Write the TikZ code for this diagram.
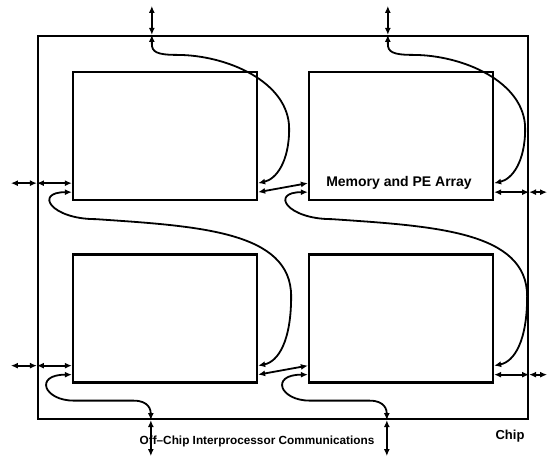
\documentclass[tikz,border=0pt]{standalone}
\usepackage{fontspec}
\setsansfont{Liberation Sans}
\usetikzlibrary{calc,arrows.meta}

\begin{document}
\begin{tikzpicture}[x=1pt,y=1pt,
  pe/.style={draw,line width=2.3pt,inner sep=0pt,minimum width=184pt,minimum height=128pt},
  link/.style={line width=1.8pt,{Latex[length=7pt,width=6pt]}-{Latex[length=7pt,width=6pt]}},
  lbl/.style={font=\sffamily\bfseries\fontsize{11.8}{14}\selectfont,inner sep=0pt}]
  \useasboundingbox (0,0) rectangle (547,463);
  \node[draw,line width=2.2pt,inner sep=0pt,minimum width=490pt,minimum height=383pt] (chip) at (283,235.5) {};
  \path (165,327) node[pe] (tl) {} (401,327) node[pe] (tr) {}
  (165,144.5) node[pe] (bl) {} (401,144.5) node[pe] (br) {};
  % two ports on each side of every array
  \foreach \b in {tl,tr,bl,br} {
    \coordinate (\b-wh) at ($(\b.south west)+(0,18)$);
    \coordinate (\b-wl) at ($(\b.south west)+(0,9)$);
    \coordinate (\b-eh) at ($(\b.south east)+(0,18)$);
    \coordinate (\b-el) at ($(\b.south east)+(0,9)$);
  }
  % off-chip links, left and right
  \foreach \p in {tl-wh,bl-wh} {
    \coordinate (\p-c) at (chip.west |- \p);
    \coordinate (\p-x) at ($(\p-c)+(-26,0)$);
    \draw[link] (\p-x) -- (\p-c);
    \draw[link] (\p-c) -- (\p);
  }
  \foreach \p in {tr-el,br-el} {
    \coordinate (\p-c) at (chip.east |- \p);
    \coordinate (\p-x) at ($(\p-c)+(18,0)$);
    \draw[link] (\p-x) -- (\p-c);
    \draw[link] (\p-c) -- (\p);
  }
  % links between neighbours in a row
  \draw[link] (tl-el) -- (tr-wh);
  \draw[link] (bl-el) -- (br-wh);
  % top row wraps to the row below
  \foreach \a/\b in {tl/bl,tr/br}
    \draw[link] (\a-wl) .. controls +(-38,0) and +(-45,0) .. ++(24,-27)
      .. controls +(103,-7) and +(0,65) .. ($(\b.north east)+(33,-43)$)
      .. controls +(0,-45) and +(20,4) .. (\b-eh);
  % up through the top of the chip
  \foreach \b in {tl,tr} {
    \coordinate (\b-tx) at ($(\b.north west)+(80,0)$);
    \coordinate (\b-t) at (\b-tx |- chip.north);
    \coordinate (\b-tip) at ($(\b-t)+(0,29)$);
    \draw[link] (\b-t) -- (\b-tip);
    \draw[link] (\b-t) -- ++(0,-9) .. controls +(0,-8) and +(-20,0) .. ++(25,-11)
      .. controls +(50,0) and +(0,47) .. ($(\b.north east)+(31,-58)$)
      .. controls +(0,-33) and +(18,4) .. (\b-eh);
  }
  % down through the bottom of the chip
  \foreach \b in {bl,br} {
    \coordinate (\b-bx) at ($(\b.south west)+(79,0)$);
    \coordinate (\b-b) at (\b-bx |- chip.south);
    \coordinate (\b-tip) at ($(\b-b)+(0,-36)$);
    \draw[link] (\b-b) -- (\b-tip);
    \draw[link] (\b-wl) .. controls +(-38,0) and +(-30,0) .. ++(2,-26) -- ++(60,0)
      .. controls +(15,0) and +(0,10) .. (\b-b);
  }
  \node[lbl,font=\sffamily\bfseries\fontsize{14}{16}\selectfont] (pe) at (399,280) {Memory and PE Array};
  \node[lbl,font=\sffamily\bfseries\fontsize{13}{15}\selectfont] (chipname) at (510,27) {Chip};
  \node[lbl] (offchip) at (257,22) {Off--Chip Interprocessor Communications};
\end{tikzpicture}
\end{document}
